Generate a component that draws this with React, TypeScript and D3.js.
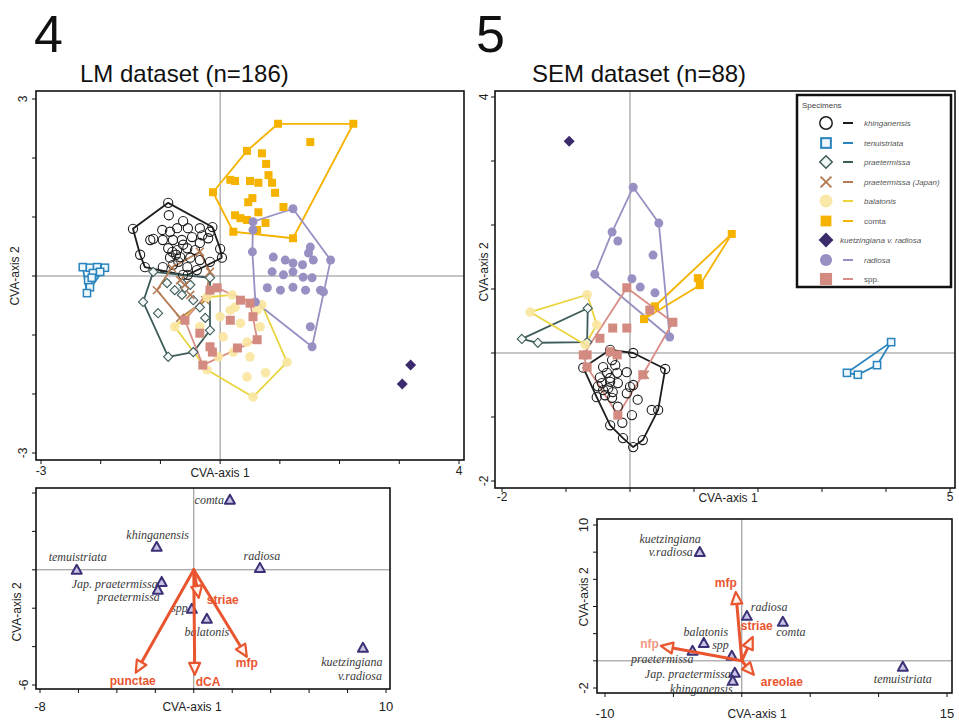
import React from "react";
import * as d3 from "d3";

type Pt = [number, number];

// ================= Fig. 4 — LM dataset (n=186): CVA scores =================
const lmKhinganensis: Pt[] = [[-0.87,1.24],[-1.46,0.80],[-1.34,0.36],[-1.26,0.15],[-0.96,0.15],[-0.79,0.19],[-0.62,0.02],[-0.54,0.02],[-0.39,0.10],[0.03,0.31],[0.0,0.46],[-0.13,0.83],[-0.62,0.93],[-0.86,1.03],[-1.12,0.63],[-1.17,0.61],[-0.97,0.78],[-0.84,0.75],[-0.72,0.81],[-0.54,0.81],[-0.34,0.81],[-0.17,0.75],[-0.30,0.69],[-0.20,0.64],[-0.96,0.61],[-0.79,0.61],[-0.64,0.61],[-0.47,0.66],[-0.34,0.56],[-0.87,0.47],[-0.72,0.44],[-0.55,0.47],[-0.42,0.44],[-0.84,0.31],[-0.67,0.32],[-0.50,0.31],[-0.34,0.27],[-0.17,0.24],[-0.55,0.15],[-0.70,0.24],[-0.74,0.36],[-0.62,0.53],[-0.80,0.41]];
const lmTenuistriata: Pt[] = [[-2.30,0.15],[-2.18,0.14],[-2.06,0.15],[-1.93,0.14],[-2.13,0.05],[-2.21,-0.07],[-2.18,-0.19],[-2.23,-0.29],[-2.01,0.07],[-2.15,-0.03]];
const lmPraetermissa: Pt[] = [[-1.12,0.07],[-1.29,-0.44],[-1.04,-0.63],[-0.87,-1.37],[-0.45,-1.29],[-0.17,-0.92],[-0.17,-0.03],[-0.64,-0.32],[-0.59,-0.20],[-0.50,-0.15],[-0.45,-0.41],[-0.34,-0.53],[-0.64,-0.12],[-0.89,-0.12],[-0.76,-0.24],[-0.25,-0.71]];
const lmPraetermissaJapan: Pt[] = [[-1.06,-0.24],[-0.67,-0.71],[-0.25,-0.41],[-0.17,0.07],[-0.34,0.41],[-0.81,0.14],[-0.59,-0.15],[-0.50,-0.32],[-0.67,-0.07]];
const lmBalatonis: Pt[] = [[-0.76,-0.86],[-0.22,-0.36],[0.20,-0.32],[0.70,-0.49],[1.12,-1.46],[0.55,-2.05],[-0.22,-1.59],[0.17,-0.58],[0.34,-0.80],[0.05,-1.03],[0.45,-1.12],[0.22,-1.29],[0.50,-1.37],[0.45,-1.71],[0.76,-1.64],[-0.03,-1.37],[-0.34,-0.86],[0.25,-0.53],[0.00,-0.69],[0.67,-0.86],[0.62,-0.58]];
const lmComta: Pt[] = [[0.97,2.58],[2.23,2.58],[1.22,0.64],[0.22,0.75],[-0.12,1.42],[0.45,2.12],[1.51,2.27],[0.70,2.08],[0.77,1.90],[0.81,1.71],[0.87,1.58],[0.92,1.41],[0.17,1.63],[0.25,1.61],[0.50,1.61],[0.64,1.58],[0.54,1.32],[0.47,1.25],[1.06,1.17],[0.64,1.08],[0.25,1.03],[0.34,0.98],[0.45,0.95],[0.76,0.90],[0.62,0.78]];
const lmKuetzingiana: Pt[] = [[3.19,-1.51],[3.05,-1.83]];
const lmRadiosa: Pt[] = [[0.55,0.92],[1.22,1.14],[1.51,0.49],[1.85,0.27],[1.73,-0.27],[1.54,-1.20],[0.59,-0.44],[0.54,0.41],[0.89,0.32],[1.09,0.27],[1.22,0.22],[1.38,0.19],[1.56,0.27],[1.48,0.39],[0.87,0.07],[1.06,0.02],[1.22,0.07],[1.39,-0.02],[1.54,-0.03],[0.79,-0.20],[1.01,-0.24],[1.22,-0.19],[1.43,-0.24],[1.51,-0.86],[0.55,0.78],[1.68,-0.24]];
const lmSpp: Pt[] = [[-0.59,-0.75],[-0.17,-0.24],[-0.05,-0.20],[0.50,-0.46],[0.55,-0.69],[0.62,-1.08],[0.29,-1.22],[0.17,-0.75],[-0.34,-0.97],[-0.17,-1.20],[-0.13,-1.29],[-0.29,-1.51],[0.34,-0.41]];

// ================= Fig. 5 — SEM dataset (n=88): CVA scores =================
const semKhinganensis: Pt[] = [[-0.73,-0.23],[-0.31,0.05],[0.05,0.00],[0.55,-0.25],[0.44,-0.89],[0.20,-1.36],[0.05,-1.47],[-0.11,-1.33],[-0.31,-1.13],[-0.52,-0.69],[-0.42,-0.22],[-0.23,-0.19],[-0.36,-0.31],[-0.20,-0.31],[-0.05,-0.30],[-0.44,-0.47],[-0.31,-0.45],[-0.19,-0.47],[0.00,-0.53],[0.05,-0.50],[-0.42,-0.58],[-0.27,-0.61],[-0.05,-0.63],[0.12,-0.73],[0.34,-0.89],[0.03,-0.97],[-0.12,-1.09],[-0.19,-0.84],[-0.34,-0.55],[-0.31,-0.39],[-0.47,-0.38],[-0.28,-0.11],[-0.39,-0.66],[-0.50,-0.52],[-0.28,-0.70]];
const semTenuistriata: Pt[] = [[3.39,-0.31],[3.56,-0.34],[3.86,-0.19],[4.08,0.17]];
const semPraetermissa: Pt[] = [[-1.69,0.22],[-1.44,0.16],[-0.66,0.70],[-0.67,0.17]];
const semPraetermissaJapan: Pt[] = [[0.23,-0.34]];
const semBalatonis: Pt[] = [[-1.56,0.64],[-0.67,0.91],[-0.70,0.13],[-0.52,0.44]];
const semComta: Pt[] = [[1.59,1.86],[1.06,1.17],[0.22,0.53],[1.09,1.06],[0.39,0.73]];
const semKuetzingiana: Pt[] = [[-0.95,3.31]];
const semRadiosa: Pt[] = [[0.05,2.59],[0.45,2.03],[0.62,0.25],[-0.55,1.23],[-0.28,1.89],[-0.19,1.75],[0.36,1.53],[0.03,1.16],[0.16,1.03],[0.39,0.94]];
const semSpp: Pt[] = [[-0.05,1.02],[0.67,0.48],[-0.19,-0.97],[-0.67,-0.22],[-0.73,-0.03],[-0.47,0.23],[-0.27,0.39],[-0.05,0.39],[-0.31,0.02],[-0.20,-0.03],[-0.67,-0.03],[0.20,-0.34],[0.31,0.67]];

const taxa = ["khinganensis", "tenuistriata", "praetermissa", "praetermissa (Japan)", "balatonis", "comta", "kuetzingiana v. radiosa", "radiosa", "spp."];
const lmGroups = [lmKhinganensis, lmTenuistriata, lmPraetermissa, lmPraetermissaJapan, lmBalatonis, lmComta, lmKuetzingiana, lmRadiosa, lmSpp];
const semGroups = [semKhinganensis, semTenuistriata, semPraetermissa, semPraetermissaJapan, semBalatonis, semComta, semKuetzingiana, semRadiosa, semSpp];

// ================= Biplots: group centroids + variable vectors =================
const lmCentroidNames = ["comta", "khinganensis", "temuistriata", "radiosa", "Jap. praetermissa", "praetermissa", "spp", "balatonis", "kuetzingiana|v.radiosa"];
const lmCentroidX = [1.88, -1.93, -6.09, 3.44, -1.67, -1.87, -0.10, 0.68, 8.8];
const lmCentroidY = [3.65, 1.20, 0.0, 0.10, -0.63, -1.04, -2.03, -2.55, -4.06];
const lmVectorNames = ["punctae", "dCA", "mfp", "striae"];
const lmVectorX = [-3.02, 0.05, 2.76, 0.26];
const lmVectorY = [-5.36, -5.47, -4.53, -1.46];

const semCentroidNames = ["kuetzingiana|v.radiosa", "radiosa", "comta", "balatonis", "spp", "praetermissa", "Jap. praetermissa", "khinganensis", "temuistriata"];
const semCentroidX = [-3.07, 0.37, 3.0, -2.78, -0.73, -3.6, -0.51, -0.66, 11.77];
const semCentroidY = [8.01, 3.31, 2.87, 1.32, 0.37, 0.74, -0.88, -1.47, -0.44];
const semVectorNames = ["mfp", "striae", "nfp", "areolae"];
const semVectorX = [-0.44, 0.80, -5.92, 0.88];
const semVectorY = [5.07, 1.76, 1.10, -1.03];

// ================= styles (layout only) =================
type Sym = "circleOpen" | "squareOpen" | "diamondOpen" | "cross" | "circlePale" | "squareFill" | "diamondFill" | "circleFill" | "squareRose";
const taxonStyle: { color: string; line: string | null; sym: Sym; italic: boolean }[] = [
  { color: "#1d1d1d", line: "#1d1d1d", sym: "circleOpen", italic: true },
  { color: "#2a84be", line: "#2a84be", sym: "squareOpen", italic: true },
  { color: "#3e5c5a", line: "#3e5c5a", sym: "diamondOpen", italic: true },
  { color: "#b47c55", line: "#b47c55", sym: "cross", italic: true },
  { color: "#f9e6a0", line: "#ead43e", sym: "circlePale", italic: true },
  { color: "#f5b300", line: "#f5b300", sym: "squareFill", italic: false },
  { color: "#3b2a6c", line: null, sym: "diamondFill", italic: true },
  { color: "#9890c2", line: "#9890c2", sym: "circleFill", italic: true },
  { color: "#d38a80", line: "#d88e86", sym: "squareRose", italic: false },
];

function symbol(t: Sym, x: number, y: number, c: string, s: number, key: string) {
  switch (t) {
    case "circleOpen":
      return <circle key={key} cx={x} cy={y} r={4.6 * s} fill="none" stroke={c} strokeWidth={1.1 * s} />;
    case "squareOpen":
      return <rect key={key} x={x - 3.6 * s} y={y - 3.6 * s} width={7.2 * s} height={7.2 * s} fill="#eef7fc" stroke={c} strokeWidth={1.5 * s} />;
    case "diamondOpen":
      return <path key={key} d={`M${x},${y - 4.6 * s}L${x + 4.6 * s},${y}L${x},${y + 4.6 * s}L${x - 4.6 * s},${y}Z`} fill="#f3f7f7" stroke={c} strokeWidth={1.1 * s} />;
    case "cross":
      return (
        <g key={key} stroke={c} strokeWidth={1.5 * s}>
          <line x1={x - 4 * s} y1={y - 4 * s} x2={x + 4 * s} y2={y + 4 * s} />
          <line x1={x - 4 * s} y1={y + 4 * s} x2={x + 4 * s} y2={y - 4 * s} />
        </g>
      );
    case "circlePale":
      return <circle key={key} cx={x} cy={y} r={4.8 * s} fill={c} opacity={0.9} />;
    case "squareFill":
      return <rect key={key} x={x - 4 * s} y={y - 4 * s} width={8 * s} height={8 * s} fill={c} />;
    case "diamondFill":
      return <path key={key} d={`M${x},${y - 5.5 * s}L${x + 5.5 * s},${y}L${x},${y + 5.5 * s}L${x - 5.5 * s},${y}Z`} fill={c} />;
    case "circleFill":
      return <circle key={key} cx={x} cy={y} r={4.5 * s} fill={c} />;
    case "squareRose":
      return <rect key={key} x={x - 4.5 * s} y={y - 4.5 * s} width={9 * s} height={9 * s} fill={c} />;
  }
}

type Frame = { l: number; r: number; t: number; b: number };

function Frame({ f, sx, sy, xt, yt }: { f: Frame; sx: d3.ScaleLinear<number, number>; sy: d3.ScaleLinear<number, number>; xt: number[]; yt: number[] }) {
  return (
    <g>
      <line x1={sx(0)} x2={sx(0)} y1={f.t} y2={f.b} stroke="#8c8c8c" strokeWidth={1} />
      <line x1={f.l} x2={f.r} y1={sy(0)} y2={sy(0)} stroke="#8c8c8c" strokeWidth={1} />
      <rect x={f.l} y={f.t} width={f.r - f.l} height={f.b - f.t} fill="none" stroke="#111" strokeWidth={1.6} />
      {xt.map((v) => (
        <line key={"x" + v} x1={sx(v)} x2={sx(v)} y1={f.b} y2={f.b + 4} stroke="#111" strokeWidth={1} />
      ))}
      {yt.map((v) => (
        <line key={"y" + v} x1={f.l - 4} x2={f.l} y1={sy(v)} y2={sy(v)} stroke="#111" strokeWidth={1} />
      ))}
    </g>
  );
}

function RotText({ x, y, text, size = 12 }: { x: number; y: number; text: string; size?: number }) {
  return (
    <text transform={`translate(${x},${y}) rotate(-90)`} textAnchor="middle" fontSize={size} fill="#222">
      {text}
    </text>
  );
}

function ScatterPanel({ groups, sx, sy }: { groups: Pt[][]; sx: d3.ScaleLinear<number, number>; sy: d3.ScaleLinear<number, number> }) {
  const lines = groups.map((g, i) => {
    const st = taxonStyle[i];
    if (!st.line || g.length < 2) return null;
    const px = g.map((p) => [sx(p[0]), sy(p[1])] as [number, number]);
    const hull = g.length >= 3 ? d3.polygonHull(px) : px;
    if (!hull) return null;
    const d = (g.length >= 3 ? d3.line()(hull.concat([hull[0]])) : d3.line()(hull)) as string;
    return <path key={"h" + i} d={d} fill="none" stroke={st.line} strokeWidth={1.8} strokeLinejoin="round" />;
  });
  return (
    <g>
      {lines}
      {groups.map((g, i) => g.map((p, j) => symbol(taxonStyle[i].sym, sx(p[0]), sy(p[1]), taxonStyle[i].color, 1, `p${i}-${j}`)))}
    </g>
  );
}

function triangle(x: number, y: number, key: string) {
  return <path key={key} d={`M${x},${y - 5}L${x + 5},${y + 4}L${x - 5},${y + 4}Z`} fill="#c9c3e6" stroke="#3a3176" strokeWidth={2} strokeLinejoin="round" />;
}

const RED = "#e9552f";

function Arrow({ x0, y0, x1, y1 }: { x0: number; y0: number; x1: number; y1: number }) {
  const dx = x1 - x0, dy = y1 - y0;
  const L = Math.hypot(dx, dy);
  const ux = dx / L, uy = dy / L;
  const hl = 12, hw = 5.5;
  const bx = x1 - ux * hl, by = y1 - uy * hl;
  const px = -uy, py = ux;
  return (
    <g>
      <line x1={x0} y1={y0} x2={bx} y2={by} stroke={RED} strokeWidth={3} strokeLinecap="round" />
      <path d={`M${x1},${y1}L${bx + px * hw},${by + py * hw}L${bx - px * hw},${by - py * hw}Z`} fill="#fff3ee" stroke={RED} strokeWidth={2.2} strokeLinejoin="round" />
    </g>
  );
}

function SpeciesLabel({ x, y, name, pos }: { x: number; y: number; name: string; pos: { dx: number; dy: number; a: string; dx2?: number; dy2?: number } }) {
  const parts = name.split("|");
  return (
    <g fontFamily="'Liberation Serif','DejaVu Serif',serif" fontStyle="italic" fontSize={12} fill="#3a3a3a">
      <text x={x + pos.dx} y={y + pos.dy} textAnchor={pos.a as any}>{parts[0]}</text>
      {parts[1] && <text x={x + (pos.dx2 ?? pos.dx)} y={y + (pos.dy2 ?? pos.dy + 14)} textAnchor={pos.a as any}>{parts[1]}</text>}
    </g>
  );
}

const lmLabelPos = [
  { dx: -6, dy: 4, a: "end" },
  { dx: 1, dy: -8, a: "middle" },
  { dx: 1, dy: -9, a: "middle" },
  { dx: 2, dy: -8, a: "middle" },
  { dx: -4, dy: 6, a: "end" },
  { dx: 2, dy: 11, a: "end" },
  { dx: -4, dy: 3, a: "end" },
  { dx: 0, dy: 17, a: "middle" },
  { dx: -11, dy: 18, a: "middle", dx2: -3, dy2: 32 },
];
const lmVecLabelPos = [
  { dx: -3, dy: 12, a: "middle" },
  { dx: 1, dy: 11, a: "start" },
  { dx: 0, dy: 10, a: "middle" },
  { dx: 8, dy: 6, a: "start" },
];
const semLabelPos = [
  { dx: 1, dy: -9, a: "end", dx2: -7, dy2: 4 },
  { dx: 4, dy: -5, a: "start" },
  { dx: 8, dy: 14, a: "middle" },
  { dx: 2, dy: -7, a: "middle" },
  { dx: -3, dy: -7, a: "end" },
  { dx: 1, dy: 12, a: "end" },
  { dx: -4, dy: 5, a: "end" },
  { dx: 0, dy: 12, a: "end" },
  { dx: 0, dy: 16, a: "middle" },
];
const semVecLabelPos = [
  { dx: -10, dy: -5, a: "middle" },
  { dx: -12, dy: -7, a: "start" },
  { dx: -2, dy: 2, a: "end" },
  { dx: 7, dy: 11, a: "start" },
];

export default function App() {
  const f4: Frame = { l: 36, r: 464, t: 91, b: 460 };
  const x4 = d3.scaleLinear().domain([-3, 4]).range([41, 459]);
  const y4 = d3.scaleLinear().domain([-3, 3]).range([453, 99]);
  const f5: Frame = { l: 495, r: 955, t: 91, b: 488 };
  const x5 = d3.scaleLinear().domain([-2, 5]).range([502, 950]);
  const y5 = d3.scaleLinear().domain([-2, 4]).range([481, 97]);
  const fb4: Frame = { l: 36, r: 390, t: 488, b: 689 };
  const xb4 = d3.scaleLinear().domain([-8, 10]).range([40, 386]);
  const yb4 = d3.scaleLinear().domain([-6, 4]).range([685, 493]);
  const fb5: Frame = { l: 597, r: 952, t: 519, b: 693 };
  const xb5 = d3.scaleLinear().domain([-10, 15]).range([605, 947]);
  const yb5 = d3.scaleLinear().domain([-2, 10]).range([688, 525]);

  const legendRows = [123, 143, 162, 182, 201, 221, 240, 260, 279];

  return (
    <svg width={959} height={725} style={{ position: "absolute", left: 0, top: 0, display: "block" }} fontFamily="'Liberation Sans', Arial, sans-serif">
      <rect width={959} height={725} fill="#fff" />
      <text x={34} y={52} fontSize={52} fill="#111">4</text>
      <text x={80} y={82} fontSize={24} fill="#111">LM dataset (n=186)</text>
      <text x={476} y={52} fontSize={52} fill="#111">5</text>
      <text x={532} y={82} fontSize={24} fill="#111">SEM dataset (n=88)</text>

      {/* Fig 4 scatter */}
      <Frame f={f4} sx={x4} sy={y4} xt={d3.range(-3, 5)} yt={d3.range(-3, 4)} />
      <ScatterPanel groups={lmGroups} sx={x4} sy={y4} />
      <text x={x4(-3)} y={475} textAnchor="middle" fontSize={12} fill="#222">-3</text>
      <text x={x4(4)} y={475} textAnchor="middle" fontSize={12} fill="#222">4</text>
      <text x={220} y={477} textAnchor="middle" fontSize={12} fill="#222">CVA-axis 1</text>
      <RotText x={27} y={y4(3)} text="3" />
      <RotText x={27} y={y4(-3)} text="-3" />
      <RotText x={19} y={276} text="CVA-axis 2" />

      {/* Fig 5 scatter */}
      <Frame f={f5} sx={x5} sy={y5} xt={d3.range(-2, 6)} yt={d3.range(-2, 5)} />
      <ScatterPanel groups={semGroups} sx={x5} sy={y5} />
      <text x={x5(-2)} y={501} textAnchor="middle" fontSize={12} fill="#222">-2</text>
      <text x={x5(5)} y={501} textAnchor="middle" fontSize={12} fill="#222">5</text>
      <text x={728} y={502} textAnchor="middle" fontSize={12} fill="#222">CVA-axis 1</text>
      <RotText x={488} y={y5(4)} text="4" />
      <RotText x={488} y={y5(-2)} text="-2" />
      <RotText x={488} y={272} text="CVA-axis 2" />

      {/* legend */}
      <rect x={797} y={95} width={154} height={192} fill="#fff" stroke="#111" strokeWidth={2.5} />
      <text x={802} y={108} fontSize={8} fill="#444">Specimens</text>
      {taxa.map((t, i) => {
        const st = taxonStyle[i];
        const yy = legendRows[i];
        const isK = i === 6;
        return (
          <g key={"lg" + i}>
            {symbol(st.sym, 826, yy, st.color, 1.35, "ls" + i)}
            {!isK && <line x1={843} x2={853} y1={yy} y2={yy} stroke={st.line || st.color} strokeWidth={2} />}
            <text x={isK ? 840 : 864} y={yy + 3} fontSize={8} fill="#555" fontStyle={st.italic ? "italic" : "normal"}>{t}</text>
          </g>
        );
      })}

      {/* Fig 4 biplot */}
      <Frame f={fb4} sx={xb4} sy={yb4} xt={d3.range(-8, 11, 2)} yt={d3.range(-6, 5, 2)} />
      {lmCentroidNames.map((n, i) => (
        <g key={"c4" + i}>
          <SpeciesLabel x={xb4(lmCentroidX[i])} y={yb4(lmCentroidY[i])} name={n} pos={lmLabelPos[i]} />
          {triangle(xb4(lmCentroidX[i]), yb4(lmCentroidY[i]), "t4" + i)}
        </g>
      ))}
      {lmVectorNames.map((n, i) => (
        <Arrow key={"a4" + i} x0={xb4(0)} y0={yb4(0)} x1={xb4(lmVectorX[i])} y1={yb4(lmVectorY[i])} />
      ))}
      {lmVectorNames.map((n, i) => (
        <text key={"v4" + i} x={xb4(lmVectorX[i]) + lmVecLabelPos[i].dx} y={yb4(lmVectorY[i]) + lmVecLabelPos[i].dy} textAnchor={lmVecLabelPos[i].a as any} fontSize={12} fontWeight="bold" fill={RED}>{n}</text>
      ))}
      <text x={xb4(-8)} y={711} textAnchor="middle" fontSize={13} fill="#222">-8</text>
      <text x={xb4(10)} y={711} textAnchor="middle" fontSize={13} fill="#222">10</text>
      <text x={192} y={711} textAnchor="middle" fontSize={12} fill="#222">CVA-axis 1</text>
      <RotText x={28} y={yb4(-6)} text="-6" />
      <RotText x={21} y={612} text="CVA-axis 2" />

      {/* Fig 5 biplot */}
      <Frame f={fb5} sx={xb5} sy={yb5} xt={d3.range(-10, 16, 5)} yt={d3.range(-2, 11, 2)} />
      {semCentroidNames.map((n, i) => (
        <g key={"c5" + i}>
          <SpeciesLabel x={xb5(semCentroidX[i])} y={yb5(semCentroidY[i])} name={n} pos={semLabelPos[i]} />
          {triangle(xb5(semCentroidX[i]), yb5(semCentroidY[i]), "t5" + i)}
        </g>
      ))}
      {semVectorNames.map((n, i) => (
        <Arrow key={"a5" + i} x0={xb5(0)} y0={yb5(0)} x1={xb5(semVectorX[i])} y1={yb5(semVectorY[i])} />
      ))}
      {semVectorNames.map((n, i) => (
        <text key={"v5" + i} x={xb5(semVectorX[i]) + semVecLabelPos[i].dx} y={yb5(semVectorY[i]) + semVecLabelPos[i].dy} textAnchor={semVecLabelPos[i].a as any} fontSize={12} fontWeight="bold" fill={RED} opacity={n === "nfp" ? 0.6 : 1}>{n}</text>
      ))}
      <text x={xb5(-10)} y={718} textAnchor="middle" fontSize={13} fill="#222">-10</text>
      <text x={xb5(15)} y={718} textAnchor="middle" fontSize={13} fill="#222">15</text>
      <text x={757} y={718} textAnchor="middle" fontSize={12} fill="#222">CVA-axis 1</text>
      <RotText x={588} y={yb5(10)} text="10" size={13} />
      <RotText x={588} y={yb5(-2)} text="-2" size={13} />
      <RotText x={588} y={597} text="CVA-axis 2" />
    </svg>
  );
}
